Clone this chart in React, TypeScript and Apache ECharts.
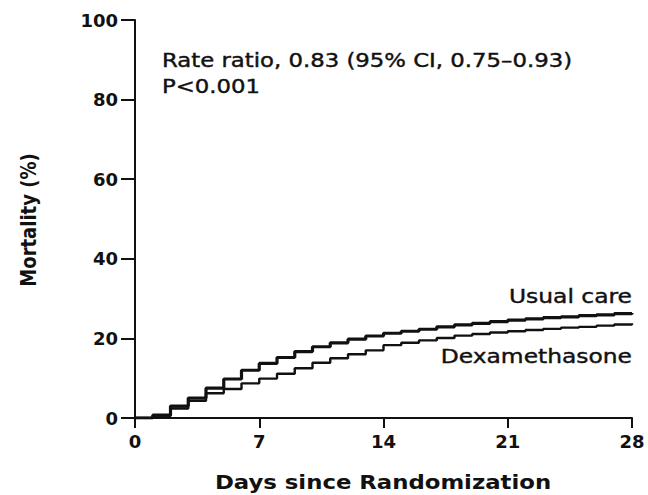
import React, { useEffect, useRef } from 'react';
import * as echarts from 'echarts';

// Days since randomization (step points)
const days = [0, 1, 2, 3, 4, 5, 6, 7, 8, 9, 10, 11, 12, 13, 14, 15, 16, 17, 18, 19, 20, 21, 22, 23, 24, 25, 26, 27, 28];
// Cumulative mortality (%)
const usualCare = [0, 0.7, 3.0, 5.0, 7.5, 9.8, 12.0, 13.7, 15.2, 16.7, 17.9, 18.9, 19.8, 20.6, 21.3, 21.8, 22.3, 22.9, 23.4, 23.8, 24.2, 24.6, 24.9, 25.2, 25.4, 25.7, 25.9, 26.2, 26.4];
const dexamethasone = [0, 0.5, 2.4, 4.3, 6.2, 7.3, 8.7, 9.9, 11.1, 12.5, 13.9, 15.0, 16.0, 17.0, 18.3, 18.9, 19.5, 20.1, 20.7, 21.1, 21.5, 21.8, 22.1, 22.4, 22.7, 22.9, 23.2, 23.5, 23.8];
const xTicks = [0, 7, 14, 21, 28];
const yTicks = [0, 20, 40, 60, 80, 100];

const seriesNames = ['Usual care', 'Dexamethasone'];
const annotationLines = ['Rate ratio, 0.83 (95% CI, 0.75–0.93)', 'P<0.001'];
const xTitle = 'Days since Randomization';
const yTitle = 'Mortality (%)';

const FONT = 'DejaVu Sans';
const INK = '#111';

export default function App() {
  const ref = useRef<HTMLDivElement>(null);

  useEffect(() => {
    if (!ref.current) return;
    const chart = echarts.init(ref.current, undefined, { renderer: 'svg' });
    const xInt = xTicks[1] - xTicks[0];
    const yInt = yTicks[1] - yTicks[0];
    chart.setOption({
      animation: false,
      backgroundColor: '#fff',
      grid: { left: 135, right: 16, top: 20, bottom: 77 },
      xAxis: {
        type: 'value',
        min: xTicks[0],
        max: xTicks[xTicks.length - 1],
        interval: xInt,
        splitLine: { show: false },
        axisLine: { onZero: false, lineStyle: { color: INK, width: 2 } },
        axisTick: { show: true, length: 10, lineStyle: { color: INK, width: 2 } },
        axisLabel: { color: INK, fontFamily: FONT, fontSize: 18, fontWeight: 'bold', margin: 14 },
      },
      yAxis: {
        type: 'value',
        min: yTicks[0],
        max: yTicks[yTicks.length - 1],
        interval: yInt,
        splitLine: { show: false },
        axisLine: { show: true, lineStyle: { color: INK, width: 2 } },
        axisTick: { show: true, length: 14, lineStyle: { color: INK, width: 2 } },
        axisLabel: { color: INK, fontFamily: FONT, fontSize: 18, fontWeight: 'bold', margin: 17 },
      },
      series: [
        {
          name: seriesNames[0],
          type: 'line',
          step: 'end',
          symbol: 'none',
          data: days.map((d, i) => [d, usualCare[i]]),
          lineStyle: { color: INK, width: 3.2 },
          z: 3,
        },
        {
          name: seriesNames[1],
          type: 'line',
          step: 'end',
          symbol: 'none',
          data: days.map((d, i) => [d, dexamethasone[i]]),
          lineStyle: { color: INK, width: 2.4 },
          z: 3,
        },
      ],
      graphic: [
        {
          type: 'text', x: 162, y: 61, scaleX: 1.2,
          style: { text: annotationLines[0], fill: INK, font: `19px "${FONT}"`, textAlign: 'left', textVerticalAlign: 'middle', stroke: INK, lineWidth: 0.4 },
        },
        {
          type: 'text', x: 162, y: 87, scaleX: 1.2,
          style: { text: annotationLines[1], fill: INK, font: `19px "${FONT}"`, textAlign: 'left', textVerticalAlign: 'middle', stroke: INK, lineWidth: 0.4 },
        },
        {
          type: 'text', x: 632, y: 296, scaleX: 1.2,
          style: { text: seriesNames[0], fill: INK, font: `19.5px "${FONT}"`, textAlign: 'right', textVerticalAlign: 'middle', stroke: INK, lineWidth: 0.4 },
        },
        {
          type: 'text', x: 632, y: 356, scaleX: 1.2,
          style: { text: seriesNames[1], fill: INK, font: `19.5px "${FONT}"`, textAlign: 'right', textVerticalAlign: 'middle', stroke: INK, lineWidth: 0.4 },
        },
        {
          type: 'text', x: 383, y: 483, scaleX: 1.2,
          style: { text: xTitle, fill: INK, font: `bold 19px "${FONT}"`, textAlign: 'center', textVerticalAlign: 'middle' },
        },
        {
          type: 'text', x: 29, y: 220, rotation: Math.PI / 2, scaleY: 1.2,
          style: { text: yTitle, fill: INK, font: `bold 18px "${FONT}"`, textAlign: 'center', textVerticalAlign: 'middle' },
        },
      ],
    });
    return () => chart.dispose();
  }, []);

  return (
    <div
      ref={ref}
      style={{ position: 'fixed', left: 0, top: 0, width: 648, height: 495, background: '#fff' }}
    />
  );
}
